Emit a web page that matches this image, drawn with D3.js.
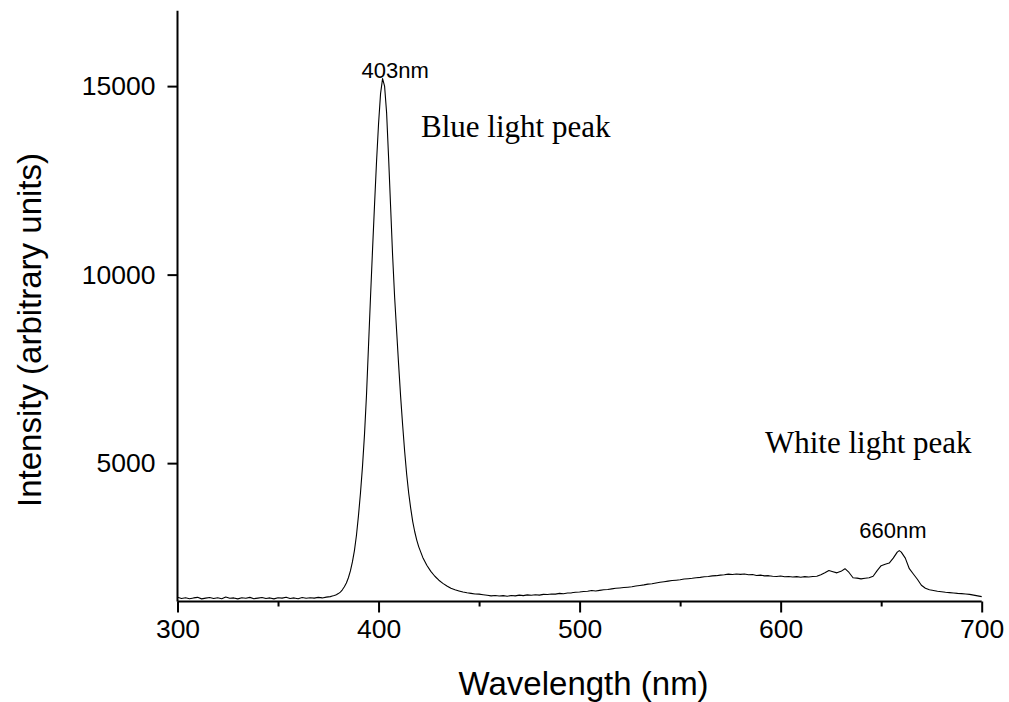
<!DOCTYPE html>
<html>
<head>
<meta charset="utf-8">
<script src="https://cdn.jsdelivr.net/npm/d3@7"></script>
<style>
  html, body { margin: 0; padding: 0; background: #fff; }
  svg { display: block; }
  .axis path, .axis line { stroke: #000; stroke-width: 2px; }
  .axis text { font-family: "Liberation Sans", Arial, sans-serif; font-size: 26.5px; fill: #000; }
</style>
</head>
<body>
<svg id="chart" width="1009" height="702"></svg>
<script>
// Emission spectrum: wavelength (nm) and measured intensity (arbitrary units)
const wavelengths = [
  300,302,304,306,308,310,312,314,316,318,320,322,324,326,328,330,332,334,336,338,
  340,342,344,346,348,350,352,354,356,358,360,362,364,366,368,370,372,374,376,
  377,378,379,380,381,382,383,384,385,386,387,388,389,390,391,392,393,394,395,396,
  397,398,399,400,401,402,403,404,405,406,407,408,409,410,411,412,413,414,415,416,
  417,418,419,420,422,424,426,428,430,432,434,436,438,440,442,444,446,448,450,452,
  454,456,458,460,462,464,466,468,470,472,474,476,478,480,482,484,486,488,490,492,
  494,496,498,500,502,504,506,508,510,512,514,516,518,520,522,524,526,528,530,532,
  534,536,538,540,542,544,546,548,550,552,554,556,558,560,562,564,566,568,570,572,
  574,576,578,580,582,584,586,588,590,592,594,596,598,600,602,604,606,608,610,612,
  614,616,618,620,622,624,626,628,630,632,634,636,638,640,642,644,646,648,650,652,
  654,656,658,659,660,662,664,666,668,670,672,674,676,678,680,682,684,686,688,690,
  692,694,696,698,700
];
const intensity = [
  1445,1410,1430,1405,1425,1440,1400,1420,1435,1410,1430,1405,1450,1415,1425,1400,1430,1415,1440,1405,
  1420,1435,1410,1425,1400,1430,1420,1445,1410,1425,1405,1435,1415,1430,1420,1440,1425,1445,1460,
  1475,1490,1510,1540,1580,1640,1720,1820,1960,2140,2380,2680,3080,3600,4200,4900,5750,6800,8100,9400,
  10650,11850,13000,14000,14800,15200,15000,14300,13100,11800,10500,9400,8500,7600,6750,6000,5300,4700,4200,3800,
  3450,3180,2960,2780,2500,2290,2130,2000,1895,1810,1740,1680,1640,1610,1580,1560,1545,1530,1525,1510,
  1495,1480,1490,1475,1485,1470,1490,1480,1500,1485,1505,1495,1510,1500,1520,1515,1530,1525,1545,1535,
  1555,1560,1575,1580,1595,1600,1620,1610,1625,1640,1650,1665,1680,1690,1700,1710,1720,1740,1755,1770,
  1790,1800,1820,1840,1855,1870,1885,1895,1905,1925,1935,1945,1960,1970,1985,1995,2010,2015,2030,2040,
  2055,2045,2060,2050,2060,2040,2045,2020,2030,2010,2015,2000,1995,2005,1985,1995,1980,1990,1975,1990,
  1980,1995,2000,2040,2090,2150,2120,2090,2130,2200,2100,1960,1950,1930,1945,1960,2000,2150,2280,2320,
  2350,2480,2640,2680,2640,2480,2200,2060,1920,1760,1680,1640,1620,1600,1590,1575,1565,1555,1545,1540,
  1530,1520,1500,1480,1460
];

// Axis ticks
const xMajorTicks = [300, 400, 500, 600, 700];
const xMinorTicks = [350, 450, 550, 650];
const yTicks = [5000, 10000, 15000];

// Peak annotations
const peakLabels = [
  { text: "403nm", wl: 403 },
  { text: "660nm", wl: 660 }
];
const regionLabels = ["Blue light peak", "White light peak"];

const margin = { top: 10.7, right: 27.3, bottom: 100.5, left: 177.5 };
const width = 1009, height = 702;
const innerW = width - margin.left - margin.right;
const innerH = height - margin.top - margin.bottom;

const svg = d3.select("#chart");
const g = svg.append("g").attr("transform", `translate(${margin.left},${margin.top})`);

const x = d3.scaleLinear().domain([300, 700]).range([0, innerW]);
const y = d3.scaleLinear().domain([1330, 17000]).range([innerH, 0]);

const data = wavelengths.map((w, i) => ({ w, v: intensity[i] }));

// Spectrum line
g.append("path")
  .datum(data)
  .attr("fill", "none")
  .attr("stroke", "#000")
  .attr("stroke-width", 1.1)
  .attr("stroke-linejoin", "round")
  .attr("d", d3.line().x(d => x(d.w)).y(d => y(d.v)));

// Minor x ticks
g.append("g")
  .attr("class", "axis")
  .attr("transform", `translate(0,${innerH})`)
  .call(d3.axisBottom(x).tickValues(xMinorTicks).tickSize(5).tickSizeOuter(0).tickFormat(""))
  .call(s => s.select(".domain").remove());

// Major x axis
g.append("g")
  .attr("class", "axis")
  .attr("transform", `translate(0,${innerH})`)
  .call(d3.axisBottom(x).tickValues(xMajorTicks).tickSize(11).tickSizeOuter(0).tickPadding(7).tickFormat(d3.format("d")))
  .call(s => s.select(".domain").attr("d", `M0,0H${innerW}`));

// y axis
g.append("g")
  .attr("class", "axis")
  .call(d3.axisLeft(y).tickValues(yTicks).tickSize(10).tickSizeOuter(0).tickPadding(12).tickFormat(d3.format("d")))
  .call(s => s.select(".domain").attr("d", `M0,${innerH}V0`));

// Axis titles
svg.append("text")
  .attr("x", margin.left + innerW / 2 + 4)
  .attr("y", 695)
  .attr("text-anchor", "middle")
  .style("font-family", '"Liberation Sans", Arial, sans-serif')
  .style("font-size", "33px")
  .text("Wavelength (nm)");

svg.append("text")
  .attr("transform", `translate(41,330) rotate(-90)`)
  .attr("text-anchor", "middle")
  .style("font-family", '"Liberation Sans", Arial, sans-serif')
  .style("font-size", "33px")
  .text("Intensity (arbitrary units)");

// Peak wavelength labels, placed just above each peak
const peakVal = w => intensity[wavelengths.indexOf(w)];
g.append("text")
  .attr("x", x(peakLabels[0].wl) - 23)
  .attr("y", y(15200) - 1)
  .style("font-family", '"Liberation Sans", Arial, sans-serif')
  .style("font-size", "22px")
  .text(peakLabels[0].text);

g.append("text")
  .attr("x", x(peakLabels[1].wl) - 42)
  .attr("y", y(peakVal(659)) - 13)
  .style("font-family", '"Liberation Sans", Arial, sans-serif')
  .style("font-size", "22px")
  .text(peakLabels[1].text);

// Region labels
svg.append("text")
  .attr("x", 421)
  .attr("y", 137)
  .style("font-family", '"Liberation Serif", "Times New Roman", serif')
  .style("font-size", "31px")
  .text(regionLabels[0]);

svg.append("text")
  .attr("x", 765)
  .attr("y", 453)
  .style("font-family", '"Liberation Serif", "Times New Roman", serif')
  .style("font-size", "31px")
  .text(regionLabels[1]);
</script>
</body>
</html>
